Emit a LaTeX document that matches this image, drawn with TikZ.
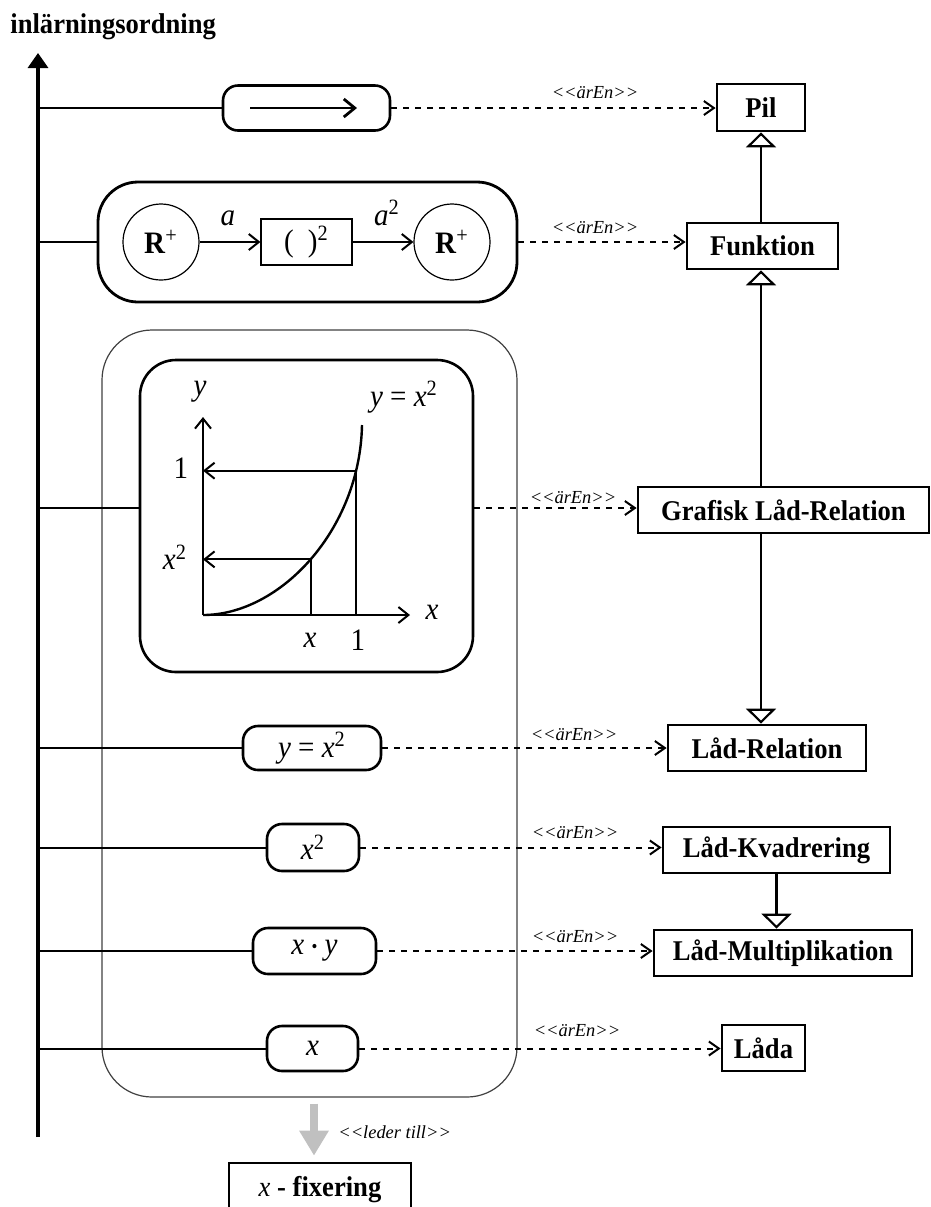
\documentclass[tikz,border=0pt]{standalone}
\usepackage{fontspec}
\setmainfont{Liberation Serif}[FakeStretch=0.93]
\newfontfamily\plainserif{Liberation Serif}
\usetikzlibrary{arrows.meta,calc}

% font sizes
\newcommand\msz{\fontsize{15.6}{18}\selectfont}
\newcommand\lsz{\fontsize{14.3}{17}\selectfont\bfseries}
\newcommand\ssz{\plainserif\fontsize{9.2}{11}\selectfont\itshape}
\newcommand\vi[1]{\textit{#1}}
\newcommand\sqr{\textsuperscript{2}}
\newcommand\isaLabel{<\kern0pt<ärEn>\kern0pt>}

\begin{document}
\begin{tikzpicture}[x=0.5pt,y=-0.5pt,
  umlbox/.style={draw, line width=1.4pt, inner sep=0pt, font=\lsz},
  rowbox/.style={draw, line width=1.3pt, rounded corners=7.5pt, inner sep=0pt, font=\msz},
  circ/.style={draw, circle, line width=0.6pt, inner sep=0pt, minimum size=38pt, font=\msz},
  isa/.style={dash pattern=on 3pt off 3pt, line width=1pt, -{Straight Barb[length=5pt,width=7pt]}},
  stereo/.style={font=\ssz, inner sep=0pt},
  gen/.style={line width=1.1pt, -{Triangle[open,length=7.5pt,width=15pt]}},
  rowline/.style={line width=1pt},
  axisline/.style={line width=1.6pt, -{Triangle[length=7.5pt,width=10pt]}},
  thinarrow/.style={line width=1pt, -{Straight Barb[length=5pt,width=8pt]}},
  gline/.style={line width=1pt},
  glabel/.style={font=\msz, inner sep=0pt}
]
\clip (0,0) rectangle (931,1207);

% title and learning-order axis
\node[anchor=base west, font=\lsz, inner sep=0pt] (title) at (10,33) {inlärningsordning};
\coordinate (axbot) at (38,1137);
\coordinate (axtop) at (38,53);
\draw[axisline] (axbot) -- (axtop);

% class boxes on the right
\node[umlbox, minimum width=44pt, minimum height=23.5pt] (pil) at (761,107.5) {Pil};
\node[umlbox, minimum width=75.5pt, minimum height=23pt] (fun) at (762.5,246) {Funktion};
\node[umlbox, minimum width=145.5pt, minimum height=23pt] (graf) at (783.5,510) {Grafisk Låd-Relation};
\node[umlbox, minimum width=99pt, minimum height=23pt] (rel) at (767,748) {Låd-Relation};
\node[umlbox, minimum width=113.5pt, minimum height=23pt] (kvad) at (776.5,850) {Låd-Kvadrering};
\node[umlbox, minimum width=129pt, minimum height=23pt] (mult) at (783,953) {Låd-Multiplikation};
\node[umlbox, minimum width=41.5pt, minimum height=23pt] (lada) at (763.5,1048) {Låda};
\node[umlbox, minimum width=91pt, minimum height=27pt] (fix) at (320,1190) {\textmd{\vi{x}} - fixering};

% generalisations
\draw[gen] (fun.north -| pil.south) -- (pil.south);
\draw[gen] (graf.north -| pil.south) -- (fun.south -| pil.south);
\draw[gen] (graf.south -| pil.south) -- (rel.north -| pil.south);
\draw[gen] (kvad.south) -- (kvad.south |- mult.north);

% group frame
\node[draw=black!75, line width=0.6pt, rounded corners=25pt, minimum width=207.5pt,
      minimum height=383.5pt, inner sep=0pt] (grp) at (309.5,713.5) {};

% row 1: the arrow
\node[rowbox, minimum width=83.5pt, minimum height=22.5pt] (r1) at (306.5,108) {};
\draw[line width=1.4pt, -{Straight Barb[length=5.5pt,width=9pt]}]
  ([xshift=-28.25pt]r1.center) -- ([xshift=25.25pt]r1.center);

% row 2: the function R+ -> R+
\node[draw, line width=1.4pt, rounded corners=20pt, minimum width=209.5pt,
      minimum height=60pt, inner sep=0pt] (r2) at (307.5,242) {};
\node[circ] (rp1) at (161,242) {\textbf{R}\textsuperscript{+}};
\node[circ] (rp2) at (452,242) {\textbf{R}\textsuperscript{+}};
\node[draw, line width=0.6pt, minimum width=45.5pt, minimum height=23pt, inner sep=0pt, font=\msz]
  (sq) at (306.5,242) {(\hspace{0.45em})\sqr};
\draw[thinarrow] (rp1) -- (sq);
\draw[thinarrow] (sq) -- (rp2);
\node[glabel] (la) at (228,218) {\vi{a}};
\node[glabel] (la2) at (387,213) {\vi{a}\sqr};

% row 3: the graph of y = x^2
\node[draw, line width=1.3pt, rounded corners=18pt, minimum width=166.5pt,
      minimum height=156pt, inner sep=0pt] (inner) at (306.5,516) {};
\coordinate (O) at (203,615);
\coordinate (yt) at (203,417);
\coordinate (xt) at (410,615);
\coordinate (ce) at (362,425);
\draw[gline, -{Straight Barb[length=5pt,width=8pt]}] (O) -- (yt);
\draw[gline, -{Straight Barb[length=5pt,width=8pt]}] (O) -- (xt);
\draw[line width=1.2pt] (O) .. controls (280,615) and (360,530) .. (ce)
  coordinate[pos=0.85] (P1) coordinate[pos=0.5] (P2);
\draw[gline, -{Straight Barb[length=5pt,width=8pt]}] (P1) -- (P1 -| O);
\draw[gline] (P1) -- (P1 |- O);
\draw[gline, -{Straight Barb[length=5pt,width=8pt]}] (P2) -- (P2 -| O);
\draw[gline] (P2) -- (P2 |- O);
\node[glabel] (ly) at (200,392) {\vi{y}};
\node[glabel] (lx) at (432,612) {\vi{x}};
\node[glabel] (l1y) at (181,468) {1};
\node[glabel] (lx2) at (175,557) {\vi{x}\sqr};
\node[glabel] (lxb) at (310,640) {\vi{x}};
\node[glabel] (l1x) at (358,640) {1};
\node[glabel] (lcurve) at (404,397) {\vi{y} = \vi{x}\sqr};

% rows 4 to 7: symbolic forms
\node[rowbox, minimum width=69pt, minimum height=22pt] (r4) at (312,748) {\vi{y} = \vi{x}\sqr};
\node[rowbox, minimum width=46pt, minimum height=23.5pt] (r5) at (313,847.5) {\vi{x}\sqr};
\node[rowbox, minimum width=61.5pt, minimum height=23pt] (r6) at (314.5,951) {\vi{x} {\fontsize{9}{9}\selectfont\raisebox{1pt}{•}} \vi{y}};
\node[rowbox, minimum width=45.5pt, minimum height=22.5pt] (r7) at (312.5,1048.5) {\vi{x}};

% links from the axis
\foreach \n in {r1,r2,r4,r5,r6,r7} \draw[rowline] (\n.west -| axbot) -- (\n.west);
\coordinate (g3w) at ($(inner.west)+(0,-8)$);
\coordinate (g3e) at ($(inner.east)+(0,-8)$);
\draw[rowline] (g3w -| axbot) -- (g3w);

% "is a" dependencies
\draw[isa] (r1.east) -- (r1.east -| pil.west);
\draw[isa] (r2.east) -- (r2.east -| fun.west);
\draw[isa] (g3e) -- (g3e -| graf.west);
\draw[isa] (r4.east) -- (r4.east -| rel.west);
\draw[isa] (r5.east) -- (r5.east -| kvad.west);
\draw[isa] (r6.east) -- (r6.east -| mult.west);
\draw[isa] (r7.east) -- (r7.east -| lada.west);
\node[stereo] (s1) at (595,93) {\isaLabel};
\node[stereo] (s2) at (595,228) {\isaLabel};
\node[stereo] (s3) at (573,498) {\isaLabel};
\node[stereo] (s4) at (574,735) {\isaLabel};
\node[stereo] (s5) at (575,833) {\isaLabel};
\node[stereo] (s6) at (575,937) {\isaLabel};
\node[stereo] (s7) at (577,1031) {\isaLabel};

% leads to x-fixation
\coordinate (ga) at (314,1103);
\draw[line width=4pt, draw={rgb,255:red,192;green,192;blue,192},
      -{Triangle[length=12.5pt,width=14pt]}, shorten <=3pt, shorten >=3pt]
  (grp.south -| ga) -- (fix.north -| ga);
\node[stereo, anchor=west] (lt) at (338,1132) {<\kern0pt<leder till>\kern0pt>};
\end{tikzpicture}
\end{document}
